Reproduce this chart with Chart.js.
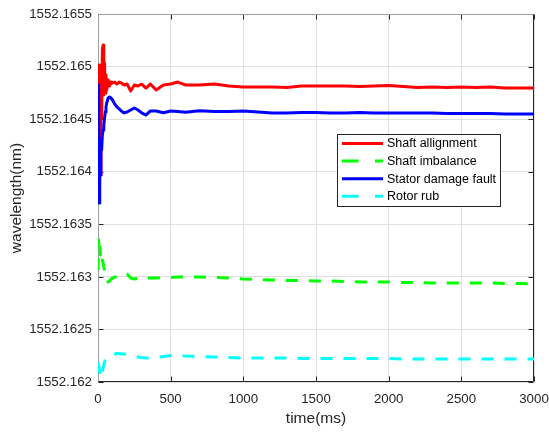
<!DOCTYPE html>
<html>
<head>
<meta charset="utf-8">
<script src="https://cdn.jsdelivr.net/npm/chart.js@4.4.1/dist/chart.umd.min.js"></script>
<style>
  html, body { margin: 0; padding: 0; background: #fff; }
  canvas { display: block; }
</style>
</head>
<body>
<canvas id="wavelengthChart" width="549" height="432"></canvas>
<script>
// time axis (ms), denser at the start where the transients are
const timeMs = [0, 4, 8, 12, 16, 20, 25, 30, 35, 40, 45, 50, 55, 60, 70, 80, 90, 100,
  115, 130, 145, 160, 180, 200, 225, 250, 275, 300, 330, 360, 400, 450, 500, 550, 600,
  700, 800, 900, 1000, 1100, 1200, 1300, 1400, 1500, 1600, 1700, 1800, 1900, 2000,
  2100, 2200, 2300, 2400, 2500, 2600, 2700, 2800, 2900, 3000];

const shaftAlignment = [1552.164872, 1552.164492, 1552.165015, 1552.164302, 1552.163969, 1552.164682,
  1552.164511, 1552.165158, 1552.165205, 1552.164730, 1552.165034, 1552.164749, 1552.164920, 1552.164777,
  1552.164872, 1552.164815, 1552.164853, 1552.164844, 1552.164853, 1552.164834, 1552.164853, 1552.164844,
  1552.164825, 1552.164834, 1552.164768, 1552.164825, 1552.164815, 1552.164834, 1552.164796, 1552.164834,
  1552.164777, 1552.164825, 1552.164834, 1552.164853, 1552.164825, 1552.164825, 1552.164834, 1552.164815,
  1552.164806, 1552.164806, 1552.164806, 1552.164801, 1552.164815, 1552.164815, 1552.164815, 1552.164815,
  1552.164811, 1552.164815, 1552.164820, 1552.164811, 1552.164801, 1552.164806, 1552.164801, 1552.164806,
  1552.164801, 1552.164806, 1552.164796, 1552.164796, 1552.164796];

const shaftImbalance = [1552.163065, 1552.163351, 1552.163255, 1552.163303, 1552.163208, 1552.163255,
  1552.163208, 1552.163160, 1552.163132, 1552.163094, 1552.163065, 1552.163018, 1552.162980, 1552.162961,
  1552.162951, 1552.162961, 1552.162980, 1552.162989, 1552.162999, 1552.162994, 1552.162999, 1552.163008,
  1552.163022, 1552.163027, 1552.162989, 1552.162980, 1552.162989, 1552.162994, 1552.162989, 1552.162989,
  1552.162989, 1552.162994, 1552.162994, 1552.162999, 1552.162999, 1552.162999, 1552.162994, 1552.162989,
  1552.162980, 1552.162975, 1552.162970, 1552.162965, 1552.162965, 1552.162961, 1552.162961, 1552.162956,
  1552.162951, 1552.162951, 1552.162951, 1552.162946, 1552.162946, 1552.162942, 1552.162942, 1552.162942,
  1552.162942, 1552.162942, 1552.162937, 1552.162937, 1552.162932];

const statorDamage = [1552.163731, 1552.164825, 1552.163703, 1552.164207, 1552.163969, 1552.164302,
  1552.164207, 1552.164349, 1552.164397, 1552.164444, 1552.164511, 1552.164568, 1552.164616, 1552.164654,
  1552.164701, 1552.164711, 1552.164701, 1552.164682, 1552.164644, 1552.164616, 1552.164597, 1552.164578,
  1552.164559, 1552.164568, 1552.164587, 1552.164606, 1552.164587, 1552.164559, 1552.164539, 1552.164578,
  1552.164578, 1552.164561, 1552.164578, 1552.164573, 1552.164565, 1552.164580, 1552.164573, 1552.164573,
  1552.164578, 1552.164568, 1552.164559, 1552.164559, 1552.164563, 1552.164563, 1552.164559, 1552.164559,
  1552.164563, 1552.164559, 1552.164559, 1552.164559, 1552.164559, 1552.164559, 1552.164554, 1552.164554,
  1552.164554, 1552.164554, 1552.164549, 1552.164549, 1552.164549];

const rotorRub = [1552.162190, 1552.162162, 1552.162133, 1552.162095, 1552.162057, 1552.162038,
  1552.162057, 1552.162095, 1552.162133, 1552.162162, 1552.162190, 1552.162209, 1552.162219, 1552.162228,
  1552.162238, 1552.162247, 1552.162257, 1552.162266, 1552.162266, 1552.162271, 1552.162271, 1552.162266,
  1552.162266, 1552.162262, 1552.162257, 1552.162247, 1552.162238, 1552.162233, 1552.162228, 1552.162228,
  1552.162233, 1552.162243, 1552.162252, 1552.162252, 1552.162247, 1552.162243, 1552.162238, 1552.162233,
  1552.162228, 1552.162228, 1552.162228, 1552.162228, 1552.162224, 1552.162224, 1552.162224, 1552.162224,
  1552.162224, 1552.162224, 1552.162224, 1552.162219, 1552.162219, 1552.162219, 1552.162219, 1552.162219,
  1552.162219, 1552.162219, 1552.162219, 1552.162219, 1552.162219];

const seriesNames = ['Shaft allignment', 'Shaft imbalance', 'Stator damage fault', 'Rotor rub'];

const xTicks = [0, 500, 1000, 1500, 2000, 2500, 3000];
const xTickLabels = ['0', '500', '1000', '1500', '2000', '2500', '3000'];
const yTicks = [1552.162, 1552.1625, 1552.163, 1552.1635, 1552.164, 1552.1645, 1552.165, 1552.1655];
const yTickLabels = ['1552.162', '1552.1625', '1552.163', '1552.1635', '1552.164', '1552.1645', '1552.165', '1552.1655'];

const FONT = 'Liberation Sans, Arial, Helvetica, sans-serif';
const INK = '#262626';

function toPoints(vals) {
  return timeMs.map((t, i) => ({ x: t, y: vals[i] }));
}

// box, inward ticks (matlab look) and the legend inside the axes
const matlabAxes = {
  id: 'matlabAxes',
  beforeDatasetsDraw(chart) {
    const ctx = chart.ctx;
    const a = chart.chartArea;
    const xs = chart.scales.x, ys = chart.scales.y;
    const L = Math.round(a.left) + 0.5, R = Math.round(a.right) - 0.5;
    const T = Math.round(a.top) + 0.5, B = Math.round(a.bottom) - 0.5;
    ctx.save();
    ctx.lineWidth = 1;
    ctx.strokeStyle = INK;
    ctx.beginPath();
    xTicks.forEach(v => {
      const px = Math.round(xs.getPixelForValue(v)) + 0.5;
      ctx.moveTo(px, B); ctx.lineTo(px, B - 5);
      ctx.moveTo(px, T); ctx.lineTo(px, T + 5);
    });
    yTicks.forEach(v => {
      const py = Math.round(ys.getPixelForValue(v)) + 0.5;
      ctx.moveTo(L, py); ctx.lineTo(L + 5, py);
      ctx.moveTo(R, py); ctx.lineTo(R - 5, py);
    });
    ctx.stroke();
    ctx.strokeStyle = '#9e9e9e';
    ctx.beginPath();
    ctx.moveTo(L, B); ctx.lineTo(L, T); ctx.lineTo(R, T);
    ctx.stroke();
    ctx.strokeStyle = INK;
    ctx.beginPath();
    ctx.moveTo(L, B); ctx.lineTo(R, B); ctx.lineTo(R, T);
    ctx.stroke();
    ctx.restore();
  },
  afterDraw(chart) {
    const ctx = chart.ctx;
    const bx = 337.5, by = 134.5, bw = 163, bh = 72;
    ctx.save();
    ctx.fillStyle = '#fff';
    ctx.fillRect(bx, by, bw, bh);
    ctx.strokeStyle = INK;
    ctx.lineWidth = 1;
    ctx.strokeRect(bx, by, bw, bh);
    ctx.font = '12.5px ' + FONT;
    ctx.textBaseline = 'middle';
    chart.data.datasets.forEach((ds, i) => {
      const y = 143.5 + i * 17.6;
      ctx.strokeStyle = ds.borderColor;
      ctx.lineWidth = 3;
      ctx.setLineDash(ds.borderDash && ds.borderDash.length ? [16.5, 16.5] : []);
      ctx.beginPath();
      ctx.moveTo(342, y); ctx.lineTo(383, y);
      ctx.stroke();
      ctx.setLineDash([]);
      ctx.fillStyle = '#000';
      ctx.fillText(ds.label, 387, y + 0.5);
    });
    ctx.restore();
  }
};

const wavelengthChart = new Chart(document.getElementById('wavelengthChart'), {
  type: 'line',
  data: {
    datasets: [
      { label: seriesNames[0], data: toPoints(shaftAlignment), borderColor: '#ff0000', order: 4 },
      { label: seriesNames[1], data: toPoints(shaftImbalance), borderColor: '#00ff00', borderDash: [12, 11], order: 3 },
      { label: seriesNames[2], data: toPoints(statorDamage), borderColor: '#0000ff', order: 2 },
      { label: seriesNames[3], data: toPoints(rotorRub), borderColor: '#00ffff', borderDash: [12, 11], order: 1 }
    ]
  },
  options: {
    responsive: false,
    animation: false,
    layout: { padding: { top: 14, right: 15, bottom: 0, left: 0 } },
    elements: {
      point: { radius: 0 },
      line: { borderWidth: 3, tension: 0, fill: false, borderCapStyle: 'butt', borderJoinStyle: 'round' }
    },
    plugins: {
      legend: { display: false },
      tooltip: { enabled: false }
    },
    scales: {
      x: {
        type: 'linear',
        min: 0,
        max: 3000,
        afterBuildTicks: s => { s.ticks = xTicks.map(v => ({ value: v })); },
        afterFit: s => { s.height = 50; s.paddingRight = 0; s.paddingLeft = 0; },
        grid: { color: '#dfdfdf', drawTicks: false },
        border: { display: false },
        ticks: { color: INK, font: { family: FONT, size: 13.3 }, padding: 9, maxRotation: 0, autoSkip: false,
          callback: (v, i) => xTickLabels[i] },
        title: { display: true, text: 'time(ms)', color: INK, font: { family: FONT, size: 15.5 }, padding: { top: 0, bottom: 4 } }
      },
      y: {
        type: 'linear',
        min: 1552.162,
        max: 1552.1655,
        afterBuildTicks: s => { s.ticks = yTicks.map(v => ({ value: v })); },
        afterFit: s => { s.width = 98; s.paddingTop = 0; s.paddingBottom = 0; },
        grid: { color: '#dfdfdf', drawTicks: false },
        border: { display: false },
        ticks: { color: INK, font: { family: FONT, size: 13.3 }, padding: 6, autoSkip: false,
          callback: (v, i) => yTickLabels[i] },
        title: { display: true, text: 'wavelength(nm)', color: INK, font: { family: FONT, size: 15.5 }, padding: { top: 7, bottom: 0 } }
      }
    }
  },
  plugins: [matlabAxes]
});
</script>
</body>
</html>
